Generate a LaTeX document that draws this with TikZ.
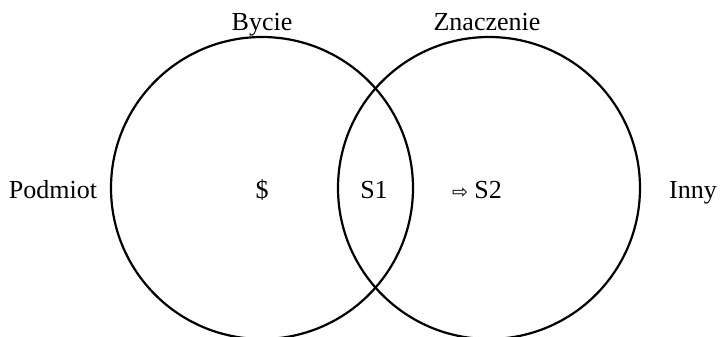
\documentclass[tikz,border=0pt]{standalone}
\usepackage{fontspec}
\setmainfont{Liberation Serif}
\newfontfamily\arrowfont{DejaVu Sans}
\begin{document}
\begin{tikzpicture}[x=1pt,y=-1pt,
  ring/.style={draw=black,line width=2.2pt},
  lbl/.style={font=\fontsize{26}{30}\selectfont,inner sep=0pt,anchor=base}]
\useasboundingbox (0,0) rectangle (721,337);
\node[ring,circle,minimum size=302pt,inner sep=0pt] (L) at (262,188) {};
\node[ring,circle,minimum size=302pt,inner sep=0pt] (R) at (489,188) {};
\node[lbl] (bycie) at (262,31) {Bycie};
\node[lbl] (znacz) at (487,31) {Znaczenie};
\node[lbl] (podm) at (53,198) {Podmiot};
\node[lbl] (sub) at (262,198) {\$};
\node[lbl] (s1) at (374,198) {S1};
\node[lbl] (s2) at (477,198) {{\arrowfont\fontsize{19}{21}\selectfont ⇨} S2};
\node[lbl] (inny) at (693,198) {Inny};
\end{tikzpicture}
\end{document}
